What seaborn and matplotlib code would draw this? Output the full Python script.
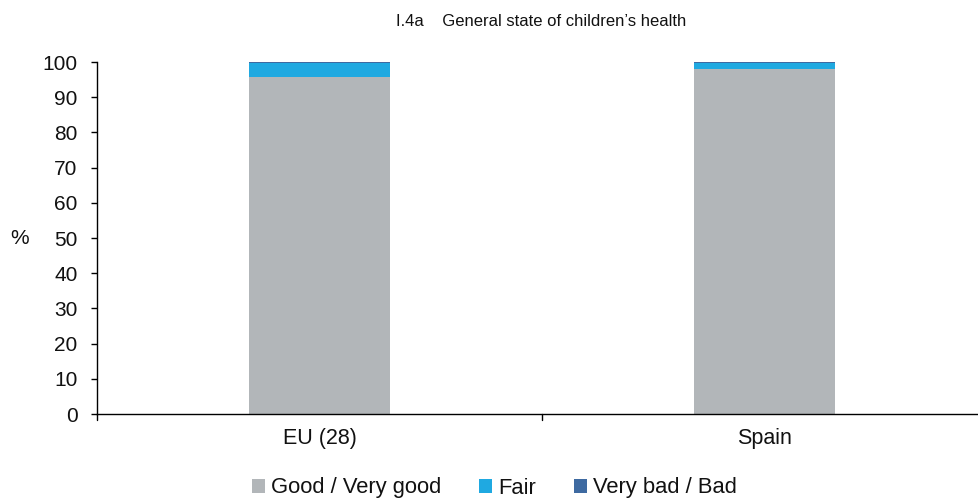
import numpy as np
import pandas as pd
import seaborn as sns
import matplotlib.pyplot as plt
from matplotlib.patches import Patch

# values (%)
countries = ["EU (28)", "Spain"]
good = [95.7, 98.1]
fair = [4.0, 1.5]
bad = [0.3, 0.4]

labels = ["Good / Very good", "Fair", "Very bad / Bad"]
colors = ["#B2B6B9", "#1FA9E1", "#3E6AA1"]

sns.set_theme(style="white")
plt.rcParams["font.family"] = ["Liberation Sans", "DejaVu Sans"]

df = pd.DataFrame({"country": countries, "good": good, "fair": fair, "bad": bad})
df["l1"] = df["good"]
df["l2"] = df["good"] + df["fair"]
df["l3"] = df["l2"] + df["bad"]

fig = plt.figure(figsize=(9.79, 5.0), dpi=100)
ax = fig.add_axes([97 / 979, 0.172, 1 - 97 / 979, 0.704])

# stacked bars: draw totals first, then overlay lower segments
for col, c in zip(["l3", "l2", "l1"], colors[::-1]):
    sns.barplot(data=df, x="country", y=col, color=c, width=0.315,
                saturation=1, ax=ax, edgecolor="none")

ax.set_ylim(0, 100)
ax.set_xlim(-0.5, 1.482)
ax.set_yticks(np.arange(0, 101, 10))
ax.tick_params(axis="y", direction="out", length=4, width=1, color="black",
               labelsize=15, pad=10, left=True, labelcolor="#111111")
ax.set_xticks([0, 1])
ax.set_xticklabels(countries, fontsize=15.5, color="#111111")
ax.tick_params(axis="x", length=0, pad=10)
# category separator ticks
for xb in [-0.5, 0.5]:
    ax.plot([xb, xb], [0, -1.6], color="black", lw=1, clip_on=False)
ax.set_xlabel("")
ax.set_ylabel("%", rotation=0, fontsize=15, va="center", color="#111111")
ax.yaxis.set_label_coords(-0.088, 0.5)

for s in ["top", "right"]:
    ax.spines[s].set_visible(False)
for s in ["left", "bottom"]:
    ax.spines[s].set_color("black")
    ax.spines[s].set_linewidth(1)

fig.text(0.553, 0.958, "I.4a    General state of children\u2019s health",
         ha="center", va="center", fontsize=12, color="#111111")

handles = [Patch(facecolor=c, edgecolor="none", label=l) for c, l in zip(colors, labels)]
fig.legend(handles=handles, loc="center", bbox_to_anchor=(0.505, 0.024), ncol=3,
           frameon=False, fontsize=15.8, handlelength=0.6, handleheight=0.6,
           handletextpad=0.3, columnspacing=1.7, labelcolor="#111111")

fig.savefig("out.png", dpi=100)
